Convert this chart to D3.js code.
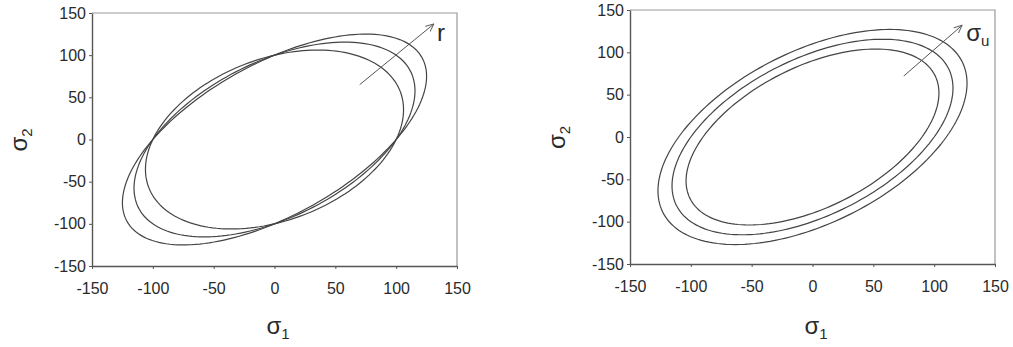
<!DOCTYPE html>
<html>
<head>
<meta charset="utf-8">
<script src="https://cdn.jsdelivr.net/npm/d3@7"></script>
<style>
  body { margin: 0; background: #fff; }
  svg { display: block; }
  .tick text { font-family: "Liberation Sans", Arial, sans-serif; font-size: 16px; fill: #2a2a2a; }
  .axis path, .axis line { stroke: #555; }
  .lbl { font-family: "Liberation Sans", Arial, sans-serif; fill: #2a2a2a; }
</style>
</head>
<body>
<svg id="chart" width="1013" height="347"></svg>
<script>
// tick values shared by both panels
const ticks = [-150, -100, -50, 0, 50, 100, 150];

// left panel: anisotropy r (Hill), uniaxial yield stress 100
const rValues = [0.5, 1, 1.5];
const yieldLeft = 100;
const arrowLeft = [[70, 65], [131, 137]];

// right panel: von Mises (r = 1) with growing yield stress
const sigmaU = [90, 100, 110];
const rRight = 1;
const arrowRight = [[75, 72], [123, 132]];

const svg = d3.select("#chart");

svg.append("defs").append("marker")
    .attr("id", "arr")
    .attr("viewBox", "0 0 10 10")
    .attr("refX", 9).attr("refY", 5)
    .attr("markerWidth", 9).attr("markerHeight", 9)
    .attr("orient", "auto")
    .append("path")
    .attr("d", "M0,1 L9,5 L0,9")
    .attr("fill", "none")
    .attr("stroke", "#555")
    .attr("stroke-width", 1);

// points of sigma1^2 - k s1 s2 + s2^2 = s^2
function locus(r, s) {
    const k = 2 * r / (1 + r);
    const a = s / Math.sqrt(1 - k / 2), b = s / Math.sqrt(1 + k / 2);
    return d3.range(0, 361, 2).map(t => {
        const th = t * Math.PI / 180;
        const u = a * Math.cos(th), v = b * Math.sin(th);
        return [(u - v) / Math.SQRT2, (u + v) / Math.SQRT2];
    });
}

function panel(box, curves, arrow, labelFn) {
    const x = d3.scaleLinear().domain([-150, 150]).range([box.x0, box.x1]);
    const y = d3.scaleLinear().domain([-150, 150]).range([box.y1, box.y0]);
    const g = svg.append("g");
    const fmt = d => String(d);

    // frame top/right
    g.append("path")
        .attr("d", `M${box.x0},${box.y0}H${box.x1}V${box.y1}`)
        .attr("fill", "none").attr("stroke", "#999").attr("stroke-width", 1.2);

    g.append("g").attr("class", "axis")
        .attr("transform", `translate(0,${box.y1})`)
        .call(d3.axisBottom(x).tickValues(ticks).tickFormat(fmt).tickSize(3).tickPadding(14).tickSizeOuter(0))
        .call(a => a.select(".domain").attr("stroke-width", 1.4));

    g.append("g").attr("class", "axis")
        .attr("transform", `translate(${box.x0},0)`)
        .call(d3.axisLeft(y).tickValues(ticks).tickFormat(fmt).tickSize(3).tickPadding(3).tickSizeOuter(0))
        .call(a => a.select(".domain").attr("stroke-width", 1.4));

    const line = d3.line().x(d => x(d[0])).y(d => y(d[1]));
    g.selectAll(".curve").data(curves).enter().append("path")
        .attr("class", "curve")
        .attr("d", d => line(d) + "Z")
        .attr("fill", "none")
        .attr("stroke", "#444")
        .attr("stroke-width", 1.2);

    g.append("line")
        .attr("x1", x(arrow[0][0])).attr("y1", y(arrow[0][1]))
        .attr("x2", x(arrow[1][0])).attr("y2", y(arrow[1][1]))
        .attr("stroke", "#555").attr("stroke-width", 1)
        .attr("marker-end", "url(#arr)");

    labelFn(g, x, y, arrow);

    // axis titles
    const t1 = g.append("text").attr("class", "lbl")
        .attr("x", x(0) - 8).attr("y", 334).attr("font-size", 24);
    t1.append("tspan").text("σ");
    t1.append("tspan").attr("font-size", 15).attr("dy", 5).text("1");

    const t2 = g.append("text").attr("class", "lbl")
        .attr("transform", `translate(${box.x0 - 65},${y(0) + 12}) rotate(-90)`)
        .attr("font-size", 24);
    t2.append("tspan").text("σ");
    t2.append("tspan").attr("font-size", 15).attr("dy", 5).text("2");
}

panel({ x0: 92, x1: 457, y0: 13, y1: 266 },
    rValues.map(r => locus(r, yieldLeft)),
    arrowLeft,
    (g, x, y, a) => g.append("text").attr("class", "lbl")
        .attr("x", x(a[1][0]) + 3).attr("y", y(a[1][1]) + 17)
        .attr("font-size", 24).text("r"));

panel({ x0: 630, x1: 995, y0: 10, y1: 264 },
    sigmaU.map(s => locus(rRight, s)),
    arrowRight,
    (g, x, y, a) => {
        const t = g.append("text").attr("class", "lbl")
            .attr("x", x(a[1][0]) + 4).attr("y", y(a[1][1]) + 16)
            .attr("font-size", 24);
        t.append("tspan").text("σ");
        t.append("tspan").attr("font-size", 15).attr("dy", 5).text("u");
    });
</script>
</body>
</html>
